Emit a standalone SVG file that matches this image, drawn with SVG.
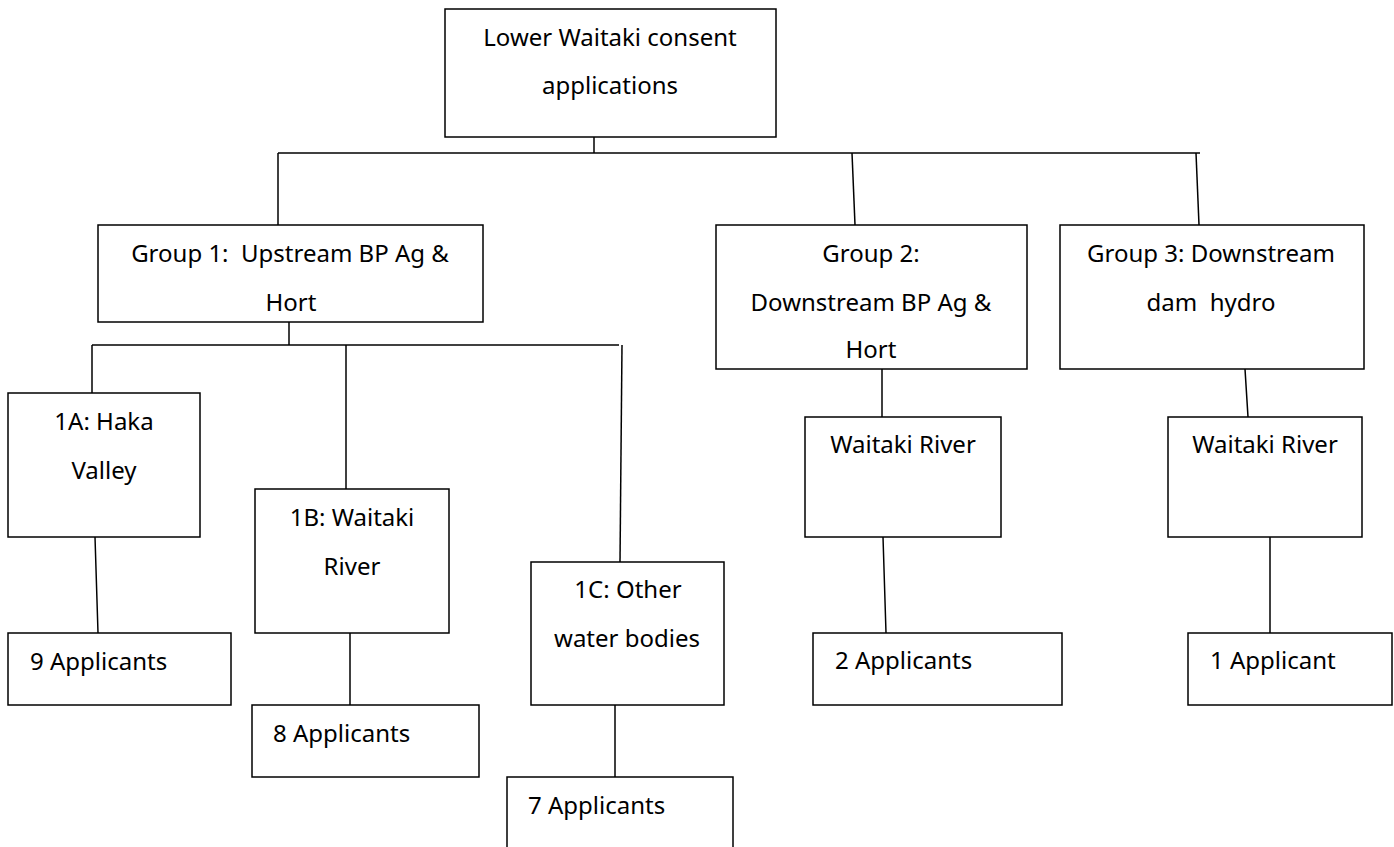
<svg xmlns="http://www.w3.org/2000/svg" width="1394" height="847" viewBox="0 0 1394 847">
<style>
  .box { fill: #ffffff; stroke: #000000; stroke-width: 1.5; }
  .conn line { stroke: #000000; stroke-width: 1.5; }
  text { font-family: "Noto Sans", "Open Sans", sans-serif; font-size: 24px; fill: #000000; }
  .c { text-anchor: middle; }
</style>
<rect width="1394" height="847" fill="#ffffff"/>
<g id="connectors" class="conn">
  <line x1="594" y1="129" x2="594" y2="153"/>
  <line x1="278" y1="153" x2="1200" y2="153"/>
  <line x1="278" y1="153" x2="278" y2="225"/>
  <line x1="852" y1="153" x2="855" y2="225"/>
  <line x1="1196" y1="153" x2="1199" y2="225"/>
  <line x1="289" y1="322" x2="289" y2="345"/>
  <line x1="92" y1="345" x2="619" y2="345"/>
  <line x1="92" y1="345" x2="92" y2="393"/>
  <line x1="346" y1="345" x2="346" y2="489"/>
  <line x1="622" y1="345" x2="620" y2="562"/>
  <line x1="95" y1="537" x2="98" y2="633"/>
  <line x1="350" y1="633" x2="350" y2="705"/>
  <line x1="615" y1="705" x2="615" y2="777"/>
  <line x1="882" y1="369" x2="882" y2="417"/>
  <line x1="1245" y1="369" x2="1248" y2="417"/>
  <line x1="883" y1="537" x2="886" y2="633"/>
  <line x1="1270" y1="537" x2="1270" y2="633"/>
</g>
<g id="root">
  <rect class="box" x="445" y="9" width="331" height="128"/>
  <text class="c" x="610" y="46">Lower Waitaki consent</text>
  <text class="c" x="610" y="94">applications</text>
</g>
<g id="group1">
  <rect class="box" x="98" y="225" width="385" height="97"/>
  <text class="c" x="290" y="262" xml:space="preserve">Group 1:  Upstream BP Ag &amp;</text>
  <text class="c" x="291" y="311">Hort</text>
</g>
<g id="group2">
  <rect class="box" x="716" y="225" width="311" height="144"/>
  <text class="c" x="871" y="262">Group 2:</text>
  <text class="c" x="871" y="311">Downstream BP Ag &amp;</text>
  <text class="c" x="871" y="358">Hort</text>
</g>
<g id="group3">
  <rect class="box" x="1060" y="225" width="304" height="144"/>
  <text class="c" x="1211" y="262">Group 3: Downstream</text>
  <text class="c" x="1211" y="311" xml:space="preserve">dam  hydro</text>
</g>
<g id="n1A">
  <rect class="box" x="8" y="393" width="192" height="144"/>
  <text class="c" x="104" y="430">1A: Haka</text>
  <text class="c" x="104" y="479">Valley</text>
</g>
<g id="n1B">
  <rect class="box" x="255" y="489" width="194" height="144"/>
  <text class="c" x="352" y="526">1B: Waitaki</text>
  <text class="c" x="352" y="575">River</text>
</g>
<g id="n1C">
  <rect class="box" x="531" y="562" width="193" height="143"/>
  <text class="c" x="628" y="598">1C: Other</text>
  <text class="c" x="627" y="647">water bodies</text>
</g>
<g id="a9">
  <rect class="box" x="8" y="633" width="223" height="72"/>
  <text x="30" y="670">9 Applicants</text>
</g>
<g id="a8">
  <rect class="box" x="252" y="705" width="227" height="72"/>
  <text x="273" y="742">8 Applicants</text>
</g>
<g id="a7">
  <rect class="box" x="507" y="777" width="226" height="80"/>
  <text x="528" y="814">7 Applicants</text>
</g>
<g id="w2">
  <rect class="box" x="805" y="417" width="196" height="120"/>
  <text class="c" x="903" y="453">Waitaki River</text>
</g>
<g id="w3">
  <rect class="box" x="1168" y="417" width="194" height="120"/>
  <text class="c" x="1265" y="453">Waitaki River</text>
</g>
<g id="a2">
  <rect class="box" x="813" y="633" width="249" height="72"/>
  <text x="835" y="669">2 Applicants</text>
</g>
<g id="a1">
  <rect class="box" x="1188" y="633" width="204" height="72"/>
  <text x="1210" y="669">1 Applicant</text>
</g>
</svg>
